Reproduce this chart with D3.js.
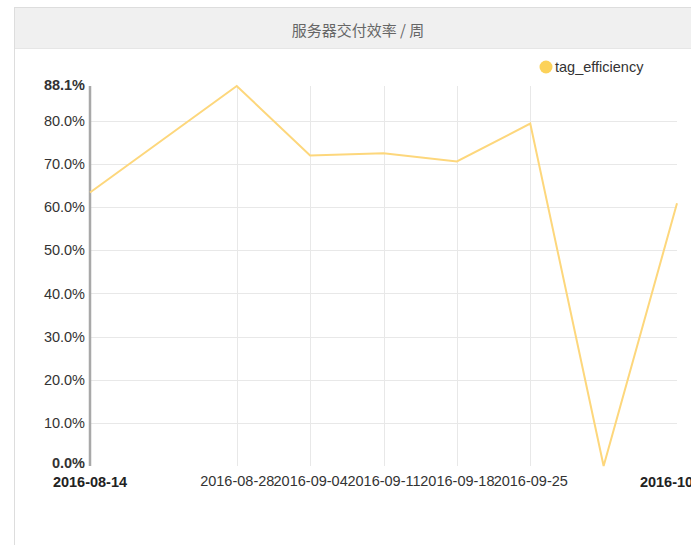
<html>
<head>
    <meta charset="UTF-8">
    <script src="https://cdnjs.cloudflare.com/ajax/libs/d3/7.8.5/d3.min.js"></script>
    <style>
        body { margin: 0; background: #fff; font-family: "Liberation Sans", Arial, sans-serif; }
    </style>
</head>
<body>
    <script>
        // weekly points (08-21 has no value in the source chart)
        var dates = ["2016-08-14", "2016-08-28", "2016-09-04", "2016-09-11", "2016-09-18", "2016-09-25", "2016-10-02", "2016-10-09"];
        var values = [0.634, 0.881, 0.720, 0.725, 0.706, 0.794, 0.0, 0.609];
        var xTickLabels = ["2016-08-28", "2016-09-04", "2016-09-11", "2016-09-18", "2016-09-25"];
        var yTicks = [0.1, 0.2, 0.3, 0.4, 0.5, 0.6, 0.7, 0.8];
        var seriesName = "tag_efficiency";
        var title = "服务器交付效率 / 周";

        var width = 691, height = 545;
        var fs = 14.5;
        var parse = d3.timeParse("%Y-%m-%d");
        var data = dates.map(function (d, i) { return {date: parse(d), value: values[i]}; });

        var x = d3.scaleTime()
                .domain(d3.extent(data, function (d) { return d.date; }))
                .range([90, 677]);
        var yMax = d3.max(values);
        var y = d3.scaleLinear()
                .domain([0, yMax])
                .range([466, 86]);

        var svg = d3.select("body").append("svg")
                .attr("width", width)
                .attr("height", height);

        // panel
        svg.append("rect")
                .attr("x", 14.5).attr("y", 7.5)
                .attr("width", 700).attr("height", 560)
                .attr("fill", "#fff").attr("stroke", "#ddd");
        svg.append("rect")
                .attr("x", 15).attr("y", 8)
                .attr("width", 700).attr("height", 40)
                .attr("fill", "#f0f0f0");
        svg.append("line")
                .attr("x1", 15).attr("x2", 700)
                .attr("y1", 48.5).attr("y2", 48.5)
                .attr("stroke", "#e6e6e6");
        svg.append("text")
                .attr("x", 358).attr("y", 29)
                .attr("text-anchor", "middle")
                .attr("dominant-baseline", "central")
                .attr("font-family", "'Noto Sans CJK SC', sans-serif")
                .attr("font-size", 15)
                .attr("fill", "#666")
                .text(title);

        // grid lines
        var g = svg.append("g");
        g.selectAll(".hgrid")
                .data(yTicks)
                .enter().append("line")
                .attr("x1", 90).attr("x2", 677)
                .attr("y1", function (d) { return Math.round(y(d)) + 0.5; })
                .attr("y2", function (d) { return Math.round(y(d)) + 0.5; })
                .attr("stroke", "#e8e8e8");
        g.selectAll(".vgrid")
                .data(xTickLabels)
                .enter().append("line")
                .attr("x1", function (d) { return Math.round(x(parse(d))) + 0.5; })
                .attr("x2", function (d) { return Math.round(x(parse(d))) + 0.5; })
                .attr("y1", 86).attr("y2", 466)
                .attr("stroke", "#e8e8e8");

        // y axis
        var yAxis = d3.axisLeft(y)
                .tickValues(yTicks)
                .tickSize(0)
                .tickPadding(5)
                .tickFormat(d3.format(".1%"));
        var ya = svg.append("g")
                .attr("transform", "translate(90,0)")
                .call(yAxis);
        ya.select(".domain").remove();
        ya.selectAll("text")
                .attr("font-family", "'Liberation Sans', Arial, sans-serif")
                .attr("font-size", fs)
                .attr("fill", "#333");
        svg.append("line")
                .attr("x1", 90).attr("x2", 90)
                .attr("y1", 86).attr("y2", 466)
                .attr("stroke", "#a8a8a8").attr("stroke-width", 2.5);
        // max / min labels
        svg.append("text")
                .attr("x", 85).attr("y", y(yMax) + 4)
                .attr("text-anchor", "end")
                .attr("font-size", fs).attr("font-weight", "bold").attr("fill", "#333")
                .text(d3.format(".1%")(yMax));
        svg.append("text")
                .attr("x", 85).attr("y", y(0) + 2)
                .attr("text-anchor", "end")
                .attr("font-size", fs).attr("font-weight", "bold").attr("fill", "#333")
                .text(d3.format(".1%")(0));

        // x axis
        var xAxis = d3.axisBottom(x)
                .tickValues(xTickLabels.map(parse))
                .tickSize(0)
                .tickPadding(10)
                .tickFormat(d3.timeFormat("%Y-%m-%d"));
        var xa = svg.append("g")
                .attr("transform", "translate(0,466)")
                .call(xAxis);
        xa.select(".domain").remove();
        xa.selectAll("text")
                .attr("font-family", "'Liberation Sans', Arial, sans-serif")
                .attr("font-size", fs)
                .attr("fill", "#333");
        var ends = x.domain();
        svg.selectAll(".xend")
                .data(ends)
                .enter().append("text")
                .attr("x", function (d) { return x(d); })
                .attr("y", 487)
                .attr("text-anchor", "middle")
                .attr("font-size", fs).attr("font-weight", "bold").attr("fill", "#222")
                .text(d3.timeFormat("%Y-%m-%d"));

        // series line
        var line = d3.line()
                .x(function (d) { return x(d.date); })
                .y(function (d) { return y(d.value); });
        svg.append("path")
                .datum(data)
                .attr("d", line)
                .attr("fill", "none")
                .attr("stroke", "#fdd77c")
                .attr("stroke-width", 2);

        // legend
        svg.append("circle")
                .attr("cx", 546).attr("cy", 67).attr("r", 6.5)
                .attr("fill", "#fcd25a");
        svg.append("text")
                .attr("x", 555).attr("y", 72)
                .attr("font-size", fs).attr("fill", "#333")
                .text(seriesName);
    </script>
</body>
</html>
